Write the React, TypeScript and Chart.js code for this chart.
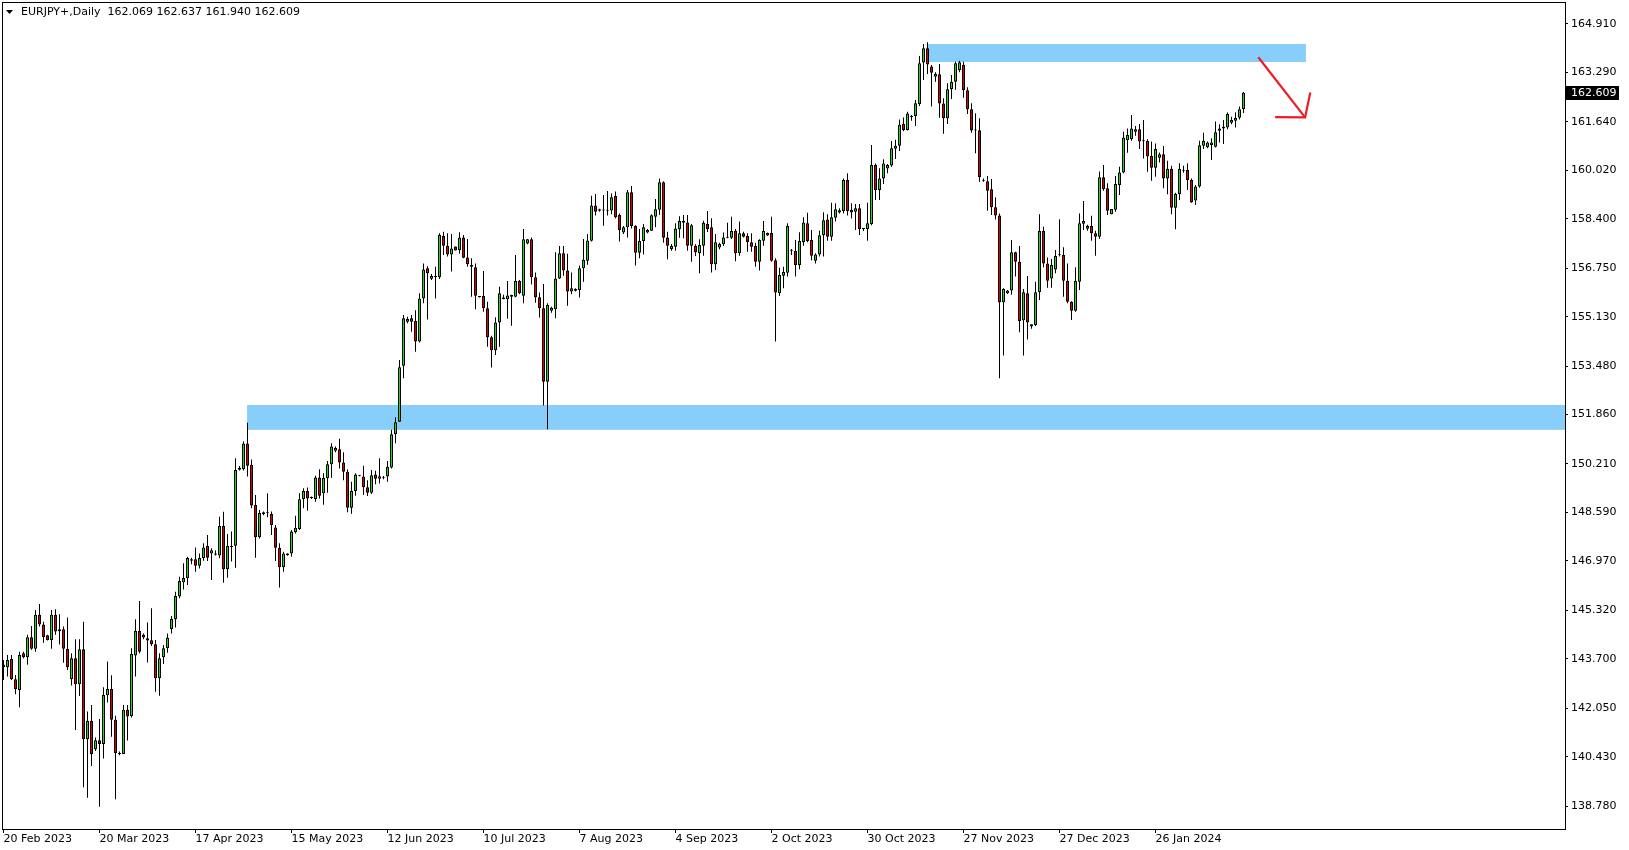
import React, { useEffect, useRef } from "react";
import { Chart, registerables } from "chart.js";

Chart.register(...registerables);

const SYMBOL = "EURJPY+";
const TIMEFRAME = "Daily";

// Daily bars (6 per week incl. Sunday session), 20 Feb 2023 .. 21 Feb 2024
const OPEN = [
  143.50,143.42,143.69,143.02,142.66,143.89,143.75,144.42,144.04,145.17,
  144.85,144.49,144.33,145.17,144.62,144.69,144.04,143.02,143.72,142.85,
  144.02,141.01,141.63,140.68,140.98,140.85,142.48,142.69,141.66,140.52,
  140.52,142.00,141.79,143.81,144.63,144.50,144.39,144.32,144.19,143.05,
  143.75,144.05,144.70,145.02,145.78,146.26,146.39,146.98,147.03,146.81,
  147.06,147.47,147.22,147.22,147.15,148.14,146.69,147.44,147.48,150.02,
  150.04,150.89,150.18,148.84,147.76,148.60,148.57,148.54,148.09,147.41,
  146.76,147.17,147.22,147.93,148.04,149.04,149.31,149.07,149.04,149.76,
  149.23,149.73,150.20,150.65,150.70,150.26,149.95,148.75,149.31,149.82,
  149.79,149.43,149.25,149.86,149.72,149.75,149.79,150.09,151.20,151.62,
  153.49,154.96,155.08,154.99,154.30,155.74,156.75,156.40,156.46,156.45,
  157.83,157.50,157.21,157.48,157.36,157.78,157.11,156.86,156.78,155.82,
  155.82,155.41,154.44,154.01,154.94,155.77,155.71,155.86,155.80,156.32,
  155.83,157.58,157.72,156.45,155.78,155.41,152.96,155.33,155.38,156.41,
  157.25,156.67,155.97,156.00,156.02,156.75,157.00,157.67,158.85,158.72,
  158.68,158.68,158.68,159.16,158.53,157.94,158.12,159.29,158.16,157.27,
  157.66,157.94,158.00,158.47,158.70,159.62,157.78,157.39,157.47,158.05,
  158.27,158.28,157.50,157.50,157.25,157.50,158.23,158.12,156.88,157.44,
  157.55,157.77,157.77,158.00,157.25,157.92,157.83,157.62,157.49,156.97,
  157.67,157.84,157.93,157.02,155.91,156.50,156.60,157.33,157.33,156.86,
  157.62,158.25,157.69,157.00,157.21,157.85,158.38,157.80,158.44,158.61,
  158.66,159.70,158.70,158.64,158.75,158.06,158.06,158.23,160.20,159.36,
  159.75,160.08,160.18,160.74,160.84,161.57,161.37,161.80,161.84,162.24,
  163.62,164.10,163.49,163.15,163.23,162.25,161.76,162.74,162.98,163.37,
  163.55,162.70,162.06,161.36,161.36,159.66,159.66,159.39,158.79,158.51,
  155.61,155.91,156.01,157.28,156.97,155.01,155.91,154.80,154.85,155.95,
  157.99,156.91,156.41,156.71,157.19,157.19,156.33,155.63,155.33,156.30,
  158.24,158.07,158.16,157.92,157.80,159.79,159.42,158.55,158.70,159.53,
  159.95,161.03,161.07,161.31,161.39,161.00,161.00,160.50,160.11,160.44,
  160.56,159.75,160.07,158.77,159.22,160.01,160.03,159.70,159.01,159.48,
  160.84,160.79,160.87,160.81,161.34,161.42,161.45,161.61,161.68,161.78,
  162.069,
];
const HIGH = [
  143.66,143.83,143.83,143.16,143.94,143.94,144.50,144.80,145.33,145.53,
  144.94,144.50,145.33,145.36,145.19,144.78,145.08,143.89,144.35,144.35,
  144.94,141.94,142.16,141.07,141.69,142.75,143.61,143.15,141.80,140.60,
  142.16,142.16,144.05,145.02,145.63,144.55,144.91,145.39,144.33,143.89,
  144.16,144.55,145.13,145.94,146.44,146.89,147.11,147.08,147.42,147.22,
  147.56,147.84,147.39,147.33,148.45,148.61,147.87,147.95,150.40,150.14,
  150.96,151.59,150.36,149.17,148.67,148.62,149.23,148.62,148.17,147.56,
  147.28,147.23,148.00,148.48,149.23,149.40,149.42,149.12,149.82,150.03,
  149.90,150.31,150.90,150.79,151.05,150.60,150.03,149.62,149.90,149.84,
  150.15,149.67,150.01,149.98,150.40,149.81,150.31,151.35,151.77,153.68,
  155.19,155.13,155.19,155.35,155.91,156.91,156.82,156.56,156.80,157.92,
  157.97,157.92,157.89,157.48,157.95,157.86,157.73,157.08,156.91,155.82,
  156.66,155.63,154.49,155.11,156.13,155.86,156.32,155.86,157.19,156.36,
  158.06,157.73,157.78,156.61,155.94,156.22,155.58,155.46,157.28,157.49,
  157.49,157.23,156.61,156.08,156.84,157.73,157.89,159.17,159.23,158.74,
  159.20,159.33,159.25,159.31,158.58,158.16,159.36,159.50,158.19,158.06,
  158.23,158.06,158.55,159.06,159.75,159.66,157.97,157.56,158.25,158.49,
  158.53,158.53,158.23,157.55,157.72,158.34,158.66,158.42,157.89,157.60,
  157.94,158.27,158.47,158.06,158.31,157.97,157.92,157.92,157.60,157.72,
  158.33,157.94,158.47,157.08,156.77,156.80,158.25,157.39,157.69,157.95,
  158.45,158.60,158.03,157.25,158.00,158.62,158.55,158.94,158.92,158.75,
  159.75,159.92,158.92,158.90,158.90,158.08,158.94,160.87,160.25,160.09,
  160.39,160.23,161.00,161.04,161.72,161.79,161.98,161.87,162.37,163.84,
  164.24,164.30,163.54,163.30,163.57,162.43,162.93,163.21,163.65,163.68,
  163.65,162.80,162.26,161.93,161.76,159.75,159.83,159.73,159.12,158.58,
  156.08,156.02,157.69,157.30,157.49,156.06,156.49,154.88,156.30,158.55,
  158.14,157.11,157.06,157.36,158.39,157.45,156.91,155.65,156.78,158.58,
  159.00,158.20,158.50,158.00,159.98,160.20,159.59,158.73,159.83,160.14,
  161.31,161.42,161.87,161.50,161.57,161.70,161.06,160.98,160.92,160.62,
  160.83,160.34,160.17,159.27,160.26,160.17,160.26,159.75,159.53,161.01,
  161.28,160.98,161.09,161.65,161.56,161.70,161.95,161.81,161.96,162.15,
  162.637,
];
const LOW = [
  142.99,143.11,142.99,142.52,142.08,143.72,143.50,144.00,143.94,144.78,
  144.24,144.31,144.04,144.50,144.18,143.57,143.33,142.81,141.32,142.46,
  139.41,139.06,140.12,140.62,138.76,140.37,142.24,141.10,139.01,140.48,
  140.52,140.97,141.74,143.11,143.89,144.35,143.58,144.13,142.60,142.47,
  143.53,143.90,144.55,144.75,145.72,146.02,146.17,146.86,146.61,146.72,
  146.98,146.97,146.33,147.15,147.06,146.24,146.41,146.95,146.74,149.99,
  149.99,149.79,148.73,147.08,147.72,148.50,148.43,147.84,146.97,146.08,
  146.61,147.14,147.11,147.89,148.00,148.73,148.65,149.04,148.95,149.06,
  148.85,149.25,149.75,150.60,150.06,149.67,148.60,148.55,149.15,149.80,
  149.17,149.14,149.21,149.53,149.56,149.70,149.62,150.06,150.90,151.62,
  153.07,154.91,154.63,153.96,154.27,155.58,155.04,156.36,155.74,156.39,
  157.19,157.14,156.64,157.34,157.23,157.08,156.80,155.80,155.38,155.77,
  155.30,154.13,153.43,153.85,154.13,155.71,155.06,154.83,155.78,155.88,
  155.58,157.55,156.21,155.60,155.10,152.16,151.37,155.26,155.08,156.39,
  156.50,155.50,155.88,155.97,155.77,156.30,156.87,157.64,158.51,158.64,
  158.17,158.51,158.55,158.42,157.64,157.89,157.78,158.08,156.84,157.08,
  157.21,157.92,157.99,158.12,158.53,157.60,157.05,157.33,157.33,157.77,
  157.75,157.33,156.97,157.16,156.58,157.17,157.96,156.61,156.69,157.38,
  157.49,157.75,157.73,156.98,157.17,157.78,157.30,157.30,156.80,156.67,
  157.50,157.83,156.97,154.30,155.82,156.08,156.47,157.19,156.47,156.72,
  157.50,157.62,157.02,156.91,157.14,157.14,157.67,157.67,158.31,158.58,
  158.58,158.51,158.41,158.03,157.86,157.99,157.67,158.19,159.03,159.03,
  159.56,159.92,160.14,160.40,160.67,161.33,161.35,161.68,161.50,162.17,
  163.04,163.24,162.15,162.98,161.78,161.24,161.57,162.40,162.71,163.30,
  162.45,161.90,161.28,160.59,159.64,159.64,158.67,158.53,158.38,153.07,
  153.83,155.89,155.86,156.47,154.61,153.83,154.37,154.73,154.82,155.69,
  156.78,156.10,156.10,156.58,157.14,155.80,155.58,155.02,155.30,156.02,
  158.03,158.00,157.67,157.17,157.73,159.34,158.53,158.55,158.64,159.20,
  159.92,160.61,161.01,161.18,160.73,160.42,159.97,159.67,159.81,160.28,
  159.42,159.22,158.55,158.05,159.03,159.94,159.36,158.94,158.86,159.44,
  160.73,160.76,160.37,160.78,160.95,160.90,161.39,161.56,161.45,161.72,
  161.940,
];
const CLOSE = [
  143.42,143.66,143.02,142.68,143.83,143.75,144.42,144.04,145.17,144.85,
  144.42,144.33,145.17,144.61,144.69,144.04,143.42,143.72,142.85,144.02,
  141.01,141.63,140.51,140.98,140.85,142.49,142.69,141.66,140.55,140.53,
  142.00,141.77,143.86,144.63,143.94,144.41,144.31,144.19,143.05,143.72,
  144.05,144.40,145.03,145.80,146.30,146.40,147.07,147.03,146.81,147.07,
  147.42,147.08,147.33,147.18,148.14,146.69,147.47,147.47,150.01,150.08,
  150.89,150.15,148.82,147.76,148.57,148.54,148.56,148.17,147.41,146.76,
  147.22,147.22,147.95,148.08,149.03,149.31,149.06,149.07,149.76,149.15,
  149.74,150.20,150.79,150.74,150.26,149.95,148.75,149.31,149.86,149.82,
  149.43,149.25,149.83,149.72,149.80,149.76,150.12,151.20,151.60,153.44,
  155.08,155.05,154.96,154.30,155.74,156.71,156.58,156.49,156.47,157.86,
  157.50,157.21,157.41,157.34,157.78,157.10,156.88,156.80,155.83,155.79,
  155.41,154.44,154.01,154.94,155.91,155.71,155.84,155.80,156.32,155.91,
  157.72,157.72,156.45,155.78,155.41,152.96,155.52,155.43,156.41,157.25,
  156.67,155.97,156.08,156.06,156.75,157.03,157.68,158.85,158.64,158.67,
  158.69,158.67,159.12,158.45,158.03,158.12,159.29,158.16,157.27,157.66,
  158.12,158.03,158.52,158.72,159.62,157.77,157.50,157.49,158.08,158.33,
  158.34,157.50,158.19,157.28,157.53,158.27,158.06,156.88,157.62,157.56,
  157.78,157.78,157.99,157.25,157.92,157.80,157.62,157.47,156.97,157.69,
  157.99,157.93,157.00,155.94,156.52,156.62,158.16,157.34,156.86,157.66,
  158.28,157.66,157.17,157.21,157.85,158.35,157.80,158.45,158.72,158.69,
  159.70,158.66,158.61,158.75,158.06,158.06,158.25,160.20,159.36,159.75,
  160.25,160.20,160.76,160.84,161.54,161.37,161.92,161.81,162.26,163.60,
  164.10,163.56,163.28,163.24,162.25,161.76,162.73,162.98,163.60,163.63,
  162.70,162.06,161.35,161.35,159.79,159.66,159.34,158.79,158.51,155.61,
  156.06,156.01,157.28,156.97,154.99,155.95,154.94,154.88,155.95,157.99,
  156.91,156.33,156.86,157.16,157.18,156.33,155.63,155.33,156.32,158.25,
  158.33,158.16,157.92,157.80,159.79,159.40,158.67,158.73,159.56,159.95,
  161.12,161.20,161.42,161.39,160.98,160.99,160.48,160.11,160.73,160.56,
  159.75,160.07,158.77,159.23,160.07,160.01,159.70,158.95,159.48,160.86,
  161.01,160.95,160.95,161.29,161.42,161.48,161.90,161.70,161.78,162.06,
  162.609,
];

// Time axis labels, one every 24 bars (4 weeks)
const X_TICK_STEP = 24;
const X_TICK_LABELS = [
  "20 Feb 2023", "20 Mar 2023", "17 Apr 2023", "15 May 2023", "12 Jun 2023",
  "10 Jul 2023", "7 Aug 2023", "4 Sep 2023", "2 Oct 2023", "30 Oct 2023",
  "27 Nov 2023", "27 Dec 2023", "26 Jan 2024",
];
const Y_TICKS = [
  164.91, 163.29, 161.64, 160.02, 158.4, 156.75, 155.13, 153.48, 151.86,
  150.21, 148.59, 146.97, 145.32, 143.7, 142.05, 140.43, 138.78,
];
const Y_MIN = 138.014;
const Y_MAX = 165.645;
const X_MIN = -0.375;
const X_MAX = 390.375;

// Zones (bar index span, price span)
const ZONE_FROM = [230.8, 60.9];
const ZONE_TO = [325.6, 400];
const ZONE_LOW = [163.64, 151.35];
const ZONE_HIGH = [164.24, 152.18];

// Red arrow (bar index, price)
const ARROW_SHAFT_X = [313.7, 325.4];
const ARROW_SHAFT_Y = [163.8, 161.79];
const ARROW_HEAD_X = [317.9, 325.4, 326.7];
const ARROW_HEAD_Y = [161.8, 161.79, 162.62];

const GREEN = "#22d822";
const RED = "#dd0000";
const ZONE_COLOR = "#87cefa";
const ARROW_COLOR = "#ee1c25";
const FONT_FAMILY = "'DejaVu Sans', sans-serif";

const f3 = (v: number) => v.toFixed(3);

const overlayPlugin = {
  id: "overlay",
  beforeDatasetsDraw(chart: any) {
    const { ctx, chartArea: a, scales } = chart;
    const x = scales.x, y = scales.y;
    ctx.save();
    ctx.beginPath();
    ctx.rect(a.left, a.top, a.right - a.left, a.bottom - a.top);
    ctx.clip();
    ctx.fillStyle = ZONE_COLOR;
    for (let k = 0; k < ZONE_FROM.length; k++) {
      const l = x.getPixelForValue(ZONE_FROM[k]);
      const r = x.getPixelForValue(ZONE_TO[k]);
      const t = y.getPixelForValue(ZONE_HIGH[k]);
      const b = y.getPixelForValue(ZONE_LOW[k]);
      ctx.fillRect(l, t, r - l, b - t);
    }
    ctx.restore();
  },
  afterDatasetsDraw(chart: any) {
    const { ctx, scales } = chart;
    const x = scales.x, y = scales.y;
    ctx.save();
    ctx.strokeStyle = ARROW_COLOR;
    ctx.lineWidth = 2.2;
    ctx.lineJoin = "miter";
    ctx.beginPath();
    ctx.moveTo(x.getPixelForValue(ARROW_SHAFT_X[0]), y.getPixelForValue(ARROW_SHAFT_Y[0]));
    ctx.lineTo(x.getPixelForValue(ARROW_SHAFT_X[1]), y.getPixelForValue(ARROW_SHAFT_Y[1]));
    ctx.stroke();
    ctx.beginPath();
    for (let k = 0; k < ARROW_HEAD_X.length; k++) {
      const px = x.getPixelForValue(ARROW_HEAD_X[k]);
      const py = y.getPixelForValue(ARROW_HEAD_Y[k]);
      if (k === 0) ctx.moveTo(px, py);
      else ctx.lineTo(px, py);
    }
    ctx.stroke();
    ctx.restore();
  },
  afterDraw(chart: any) {
    const { ctx, chartArea: a, scales } = chart;
    const y = scales.y;
    ctx.save();
    // frame
    ctx.strokeStyle = "#000";
    ctx.lineWidth = 1;
    ctx.strokeRect(a.left + 0.5, a.top + 0.5, a.right - a.left, a.bottom - a.top);
    // last price label
    const last = CLOSE[CLOSE.length - 1];
    const py = Math.round(y.getPixelForValue(last));
    ctx.fillStyle = "#000";
    ctx.fillRect(a.right + 1, py - 7, 53, 14);
    ctx.fillStyle = "#fff";
    ctx.font = `11px ${FONT_FAMILY}`;
    ctx.textBaseline = "middle";
    ctx.textAlign = "left";
    ctx.fillText(f3(last), a.right + 6, py + 0.5);
    // header
    const n = OPEN.length - 1;
    ctx.fillStyle = "#000";
    ctx.beginPath();
    ctx.moveTo(6, 10);
    ctx.lineTo(13, 10);
    ctx.lineTo(9.5, 14);
    ctx.closePath();
    ctx.fill();
    ctx.fillText(
      `${SYMBOL},${TIMEFRAME}  ${f3(OPEN[n])} ${f3(HIGH[n])} ${f3(LOW[n])} ${f3(CLOSE[n])}`,
      21,
      12.5
    );
    ctx.restore();
  },
};

export default function App() {
  const ref = useRef<HTMLCanvasElement | null>(null);

  useEffect(() => {
    document.body.style.margin = "0";
    const canvas = ref.current;
    if (!canvas) return;
    const idx = OPEN.map((_, i) => i);
    const bodies = idx.map((i) => ({ x: i, y: [OPEN[i], CLOSE[i]] }));
    const wicks = idx.map((i) => ({ x: i, y: [LOW[i], HIGH[i]] }));
    const bodyColors = idx.map((i) => (CLOSE[i] >= OPEN[i] ? GREEN : RED));
    const tickFont = { family: FONT_FAMILY, size: 11, lineHeight: 1 };

    const chart = new Chart(canvas, {
      type: "bar",
      data: {
        datasets: [
          {
            data: bodies as any,
            backgroundColor: bodyColors,
            borderColor: "#000",
            borderWidth: 1,
            borderSkipped: false,
            barThickness: 3,
            maxBarThickness: 3,
            grouped: false,
            minBarLength: 1,
            inflateAmount: 0,
          } as any,
          {
            data: wicks as any,
            backgroundColor: "#000",
            borderWidth: 0,
            barThickness: 1,
            maxBarThickness: 1,
            grouped: false,
            inflateAmount: 0,
          } as any,
        ],
      },
      options: {
        animation: false,
        responsive: false,
        events: [],
        layout: { padding: { left: 2, top: 2, right: 0, bottom: 0 } },
        plugins: {
          legend: { display: false },
          tooltip: { enabled: false },
          title: { display: false },
        },
        scales: {
          x: {
            type: "linear",
            min: X_MIN,
            max: X_MAX,
            offset: false,
            afterBuildTicks: (s: any) => {
              s.ticks = X_TICK_LABELS.map((_, k) => ({ value: k * X_TICK_STEP }));
            },
            afterFit: (s: any) => {
              s.height = 21;
              s.paddingLeft = 0;
              s.paddingRight = 0;
            },
            grid: {
              display: true,
              offset: false,
              drawOnChartArea: false,
              drawTicks: true,
              tickLength: 4,
              color: "#000",
              tickColor: "#000",
            },
            border: { display: false },
            ticks: {
              autoSkip: false,
              maxRotation: 0,
              minRotation: 0,
              align: "start",
              padding: 1,
              color: "#000",
              font: tickFont,
              callback: (v: any) => X_TICK_LABELS[Math.round(Number(v) / X_TICK_STEP)] ?? "",
            },
          } as any,
          y: {
            type: "linear",
            position: "right",
            min: Y_MIN,
            max: Y_MAX,
            beginAtZero: false,
            afterBuildTicks: (s: any) => {
              s.ticks = Y_TICKS.map((v) => ({ value: v }));
            },
            afterFit: (s: any) => {
              s.width = 64;
              s.paddingTop = 0;
              s.paddingBottom = 0;
            },
            grid: {
              display: true,
              drawOnChartArea: false,
              drawTicks: true,
              tickLength: 3,
              color: "#000",
              tickColor: "#000",
            },
            border: { display: false },
            ticks: {
              autoSkip: false,
              padding: 3,
              color: "#000",
              font: tickFont,
              callback: (v: any) => f3(Number(v)),
            },
          } as any,
        },
      },
      plugins: [overlayPlugin],
    });
    return () => chart.destroy();
  }, []);

  return (
    <div style={{ width: 1629, height: 850, position: "relative", background: "#fff" }}>
      <canvas ref={ref} width={1629} height={850} style={{ display: "block", width: 1629, height: 850 }} />
    </div>
  );
}
